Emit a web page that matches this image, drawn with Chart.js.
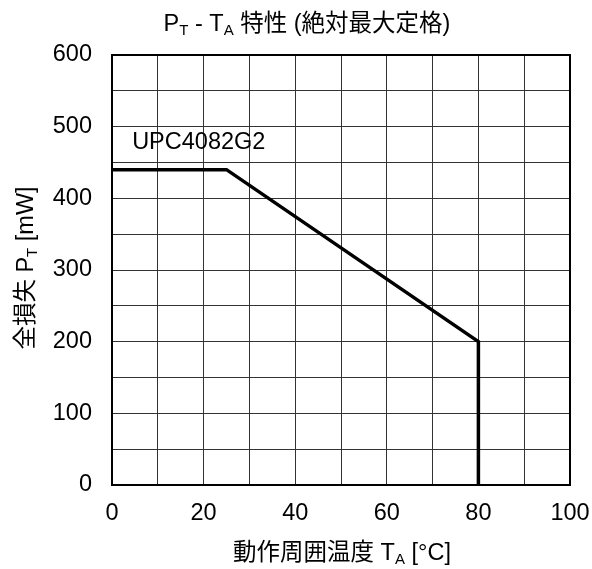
<!DOCTYPE html>
<html>
<head>
<meta charset="utf-8">
<script src="https://cdn.jsdelivr.net/npm/chart.js@4.4.1/dist/chart.umd.min.js"></script>
<style>
  html, body { margin: 0; padding: 0; background: #fff; }
  #wrap { width: 592px; height: 569px; }
</style>
</head>
<body>
<div id="wrap"><canvas id="grafica"></canvas></div>
<script>
// datos de la curva de disipacion
var tempA = [0, 25, 80, 80];
var potencia = [440, 440, 200, 0];
var serieNombre = 'UPC4082G2';
var etiquetaPos = [4.4, 478]; // donde va el nombre (en unidades del grafico)

var xMin = 0, xMax = 100, xPaso = 10;
var yMin = 0, yMax = 600, yPaso = 50;

var FUENTE = '"Liberation Sans", Arial, "Noto Sans CJK JP", sans-serif';
var TAM = 23.5;

// escribe texto con subindices: partes = [[texto, esSub], ...]
function textoSub(ctx, partes, x, y, alinear) {
    var total = 0;
    partes.forEach(function (p) {
        ctx.font = (p[1] ? 15 : TAM) + 'px ' + FUENTE;
        total += ctx.measureText(p[0]).width;
    });
    var cx = alinear === 'center' ? x - total / 2 : x;
    ctx.textAlign = 'left';
    ctx.textBaseline = 'alphabetic';
    partes.forEach(function (p) {
        ctx.font = (p[1] ? 15 : TAM) + 'px ' + FUENTE;
        ctx.fillText(p[0], cx, p[1] ? y + 4 : y);
        cx += ctx.measureText(p[0]).width;
    });
}

var extras = {
    id: 'extras',
    afterDatasetsDraw: function (chart) {
        var ctx = chart.ctx;
        var a = chart.chartArea;
        ctx.save();
        // marco
        ctx.strokeStyle = '#000';
        ctx.lineWidth = 2;
        ctx.strokeRect(a.left, a.top, a.right - a.left, a.bottom - a.top);
        ctx.fillStyle = '#000';
        // nombre de la serie
        var sx = chart.scales.x.getPixelForValue(etiquetaPos[0]);
        var sy = chart.scales.y.getPixelForValue(etiquetaPos[1]);
        ctx.font = TAM + 'px ' + FUENTE;
        ctx.textAlign = 'left';
        ctx.textBaseline = 'middle';
        ctx.fillText(serieNombre, sx, sy);
        // titulo
        textoSub(ctx, [['P', 0], ['T', 1], [' - T', 0], ['A', 1], [' 特性 (絶対最大定格)', 0]], 307, 31, 'center');
        // eje x
        textoSub(ctx, [['動作周囲温度 T', 0], ['A', 1], [' [°C]', 0]], 342, 560, 'center');
        // eje y
        ctx.translate(33, 268);
        ctx.rotate(-Math.PI / 2);
        textoSub(ctx, [['全損失 P', 0], ['T', 1], [' [mW]', 0]], 0, 0, 'center');
        ctx.restore();
    }
};

var ctx = document.getElementById('grafica').getContext('2d');
var chart = new Chart(ctx, {
    type: 'scatter',
    data: {
        datasets: [{
            label: serieNombre,
            data: tempA.map(function (t, i) { return { x: t, y: potencia[i] }; }),
            showLine: true,
            borderColor: '#000',
            borderWidth: 3.5,
            pointRadius: 0,
            fill: false,
            tension: 0
        }]
    },
    options: {
        responsive: true,
        maintainAspectRatio: false,
        animation: false,
        layout: { padding: { top: 55, right: 22, left: 0, bottom: 0 } },
        plugins: {
            legend: { display: false },
            tooltip: { enabled: false }
        },
        scales: {
            x: {
                type: 'linear',
                min: xMin,
                max: xMax,
                afterFit: function (s) {
                    s.height = 84;
                    s.paddingLeft = 0;
                    s.paddingRight = 0;
                },
                ticks: {
                    stepSize: xPaso,
                    autoSkip: false,
                    maxRotation: 0,
                    padding: 14,
                    color: '#000',
                    font: { family: FUENTE, size: TAM },
                    callback: function (v) { return v % 20 === 0 ? v : ''; }
                },
                grid: { color: '#333', lineWidth: 1, drawTicks: false },
                border: { display: false }
            },
            y: {
                type: 'linear',
                min: yMin,
                max: yMax,
                afterFit: function (s) {
                    s.width = 112;
                    s.paddingTop = 0;
                    s.paddingBottom = 0;
                },
                ticks: {
                    stepSize: yPaso,
                    autoSkip: false,
                    padding: 20,
                    color: '#000',
                    font: { family: FUENTE, size: TAM },
                    callback: function (v) { return v % 100 === 0 ? v : ''; }
                },
                grid: { color: '#333', lineWidth: 1, drawTicks: false },
                border: { display: false }
            }
        }
    },
    plugins: [extras]
});
</script>
</body>
</html>
